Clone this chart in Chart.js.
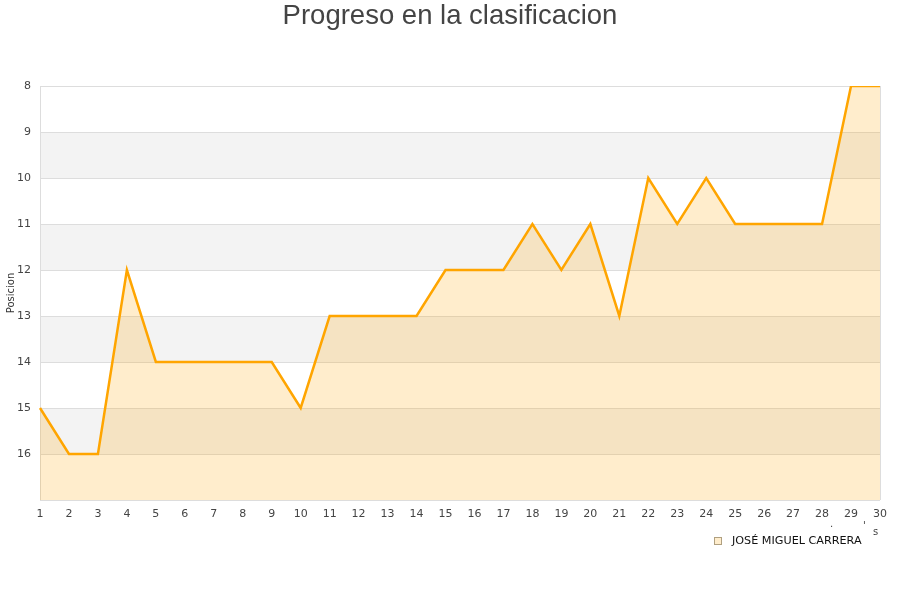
<!DOCTYPE html>
<html>
<head>
<meta charset="utf-8">
<script src="https://cdn.jsdelivr.net/npm/chart.js@4"></script>
<style>
html,body{margin:0;padding:0;background:#fff;}
#wrap{width:900px;height:600px;}
</style>
</head>
<body>
<div id="wrap"><canvas id="c" width="900" height="600"></canvas></div>
<script>
const chartTitle = "Progreso en la clasificacion";
const jornadas = ["1","2","3","4","5","6","7","8","9","10","11","12","13","14","15","16","17","18","19","20","21","22","23","24","25","26","27","28","29","30"];
const posiciones = [15,16,16,12,14,14,14,14,14,15,13,13,13,13,12,12,12,11,12,11,13,10,11,10,11,11,11,11,8,8];
const seriesName = "JOSÉ MIGUEL CARRERA";
const yMin = 8, yMax = 17;
const yTickLabels = ["8","9","10","11","12","13","14","15","16"];

const bandsPlugin = {
  id: 'bands',
  beforeDatasetsDraw(chart) {
    const {ctx, chartArea} = chart;
    const y = chart.scales.y;
    ctx.save();
    ctx.fillStyle = '#f3f3f3';
    for (let v = yMin + 1; v < yMax; v += 2) {
      const p1 = y.getPixelForValue(v), p2 = y.getPixelForValue(v + 1);
      ctx.fillRect(chartArea.left, p1, chartArea.right - chartArea.left, p2 - p1);
    }
    ctx.strokeStyle = '#dddddd';
    ctx.lineWidth = 1;
    for (let v = yMin; v <= yMax; v++) {
      const p = Math.round(y.getPixelForValue(v)) + 0.5;
      ctx.beginPath(); ctx.moveTo(chartArea.left, p); ctx.lineTo(chartArea.right, p); ctx.stroke();
    }
    ctx.beginPath();
    ctx.moveTo(Math.round(chartArea.left)+0.5, chartArea.top); ctx.lineTo(Math.round(chartArea.left)+0.5, chartArea.bottom);
    ctx.moveTo(Math.round(chartArea.right)+0.5, chartArea.top); ctx.lineTo(Math.round(chartArea.right)+0.5, chartArea.bottom);
    ctx.stroke();
    ctx.restore();
  },
  afterDraw(chart) {
    const ctx = chart.ctx;
    ctx.save();
    ctx.fillStyle = '#444444';
    ctx.font = '27.5px "Liberation Sans", Arial, sans-serif';
    ctx.textAlign = 'center';
    ctx.textBaseline = 'middle';
    ctx.fillText(chartTitle, 450, 16);
    ctx.fillStyle = 'rgba(255,165,0,0.2)';
    ctx.fillRect(714.5, 537.5, 7, 7);
    ctx.strokeStyle = '#b0a080';
    ctx.lineWidth = 1;
    ctx.strokeRect(714.5, 537.5, 7, 7);
    ctx.fillStyle = '#111111';
    ctx.font = '11.2px "DejaVu Sans", sans-serif';
    ctx.textAlign = 'left';
    ctx.fillText(seriesName, 732, 541);
    ctx.fillStyle = '#444444';
    ctx.font = '10px "DejaVu Sans", sans-serif';
    ctx.fillText('s', 873, 532);
    ctx.fillText('.', 830, 524);
    ctx.fillText("'", 863, 526);
    ctx.restore();
  }
};

new Chart(document.getElementById('c'), {
  type: 'line',
  data: {
    labels: jornadas,
    datasets: [{
      label: seriesName,
      data: posiciones,
      borderColor: '#ffa500',
      backgroundColor: 'rgba(255,165,0,0.2)',
      borderWidth: 2.5,
      fill: 'start',
      pointRadius: 0,
      tension: 0
    }]
  },
  options: {
    responsive: false,
    animation: false,
    layout: { padding: { top: 86, right: 20, bottom: 0, left: 0 } },
    plugins: { legend: { display: false }, title: { display: false }, tooltip: { enabled: false } },
    scales: {
      x: {
        offset: false,
        grid: { display: false, drawTicks: false },
        border: { display: false },
        ticks: { color: '#444', font: { size: 11, family: '"DejaVu Sans", sans-serif' }, padding: 8, maxRotation: 0, autoSkip: false },
        afterFit(s) { s.height = 100; }
      },
      y: {
        reverse: true,
        min: yMin,
        max: yMax,
        grid: { display: false, drawTicks: false },
        border: { display: false },
        ticks: {
          stepSize: 1,
          color: '#444',
          font: { size: 11, family: '"DejaVu Sans", sans-serif' },
          padding: 9,
          callback: (v) => yTickLabels.includes(String(v)) ? String(v) : ''
        },
        title: { display: true, text: 'Posicion', color: '#333', font: { size: 10, family: '"DejaVu Sans", sans-serif' }, padding: { top: 5, bottom: 0 } },
        afterFit(s) { s.width = 40; }
      }
    }
  },
  plugins: [bandsPlugin]
});
</script>
</body>
</html>
